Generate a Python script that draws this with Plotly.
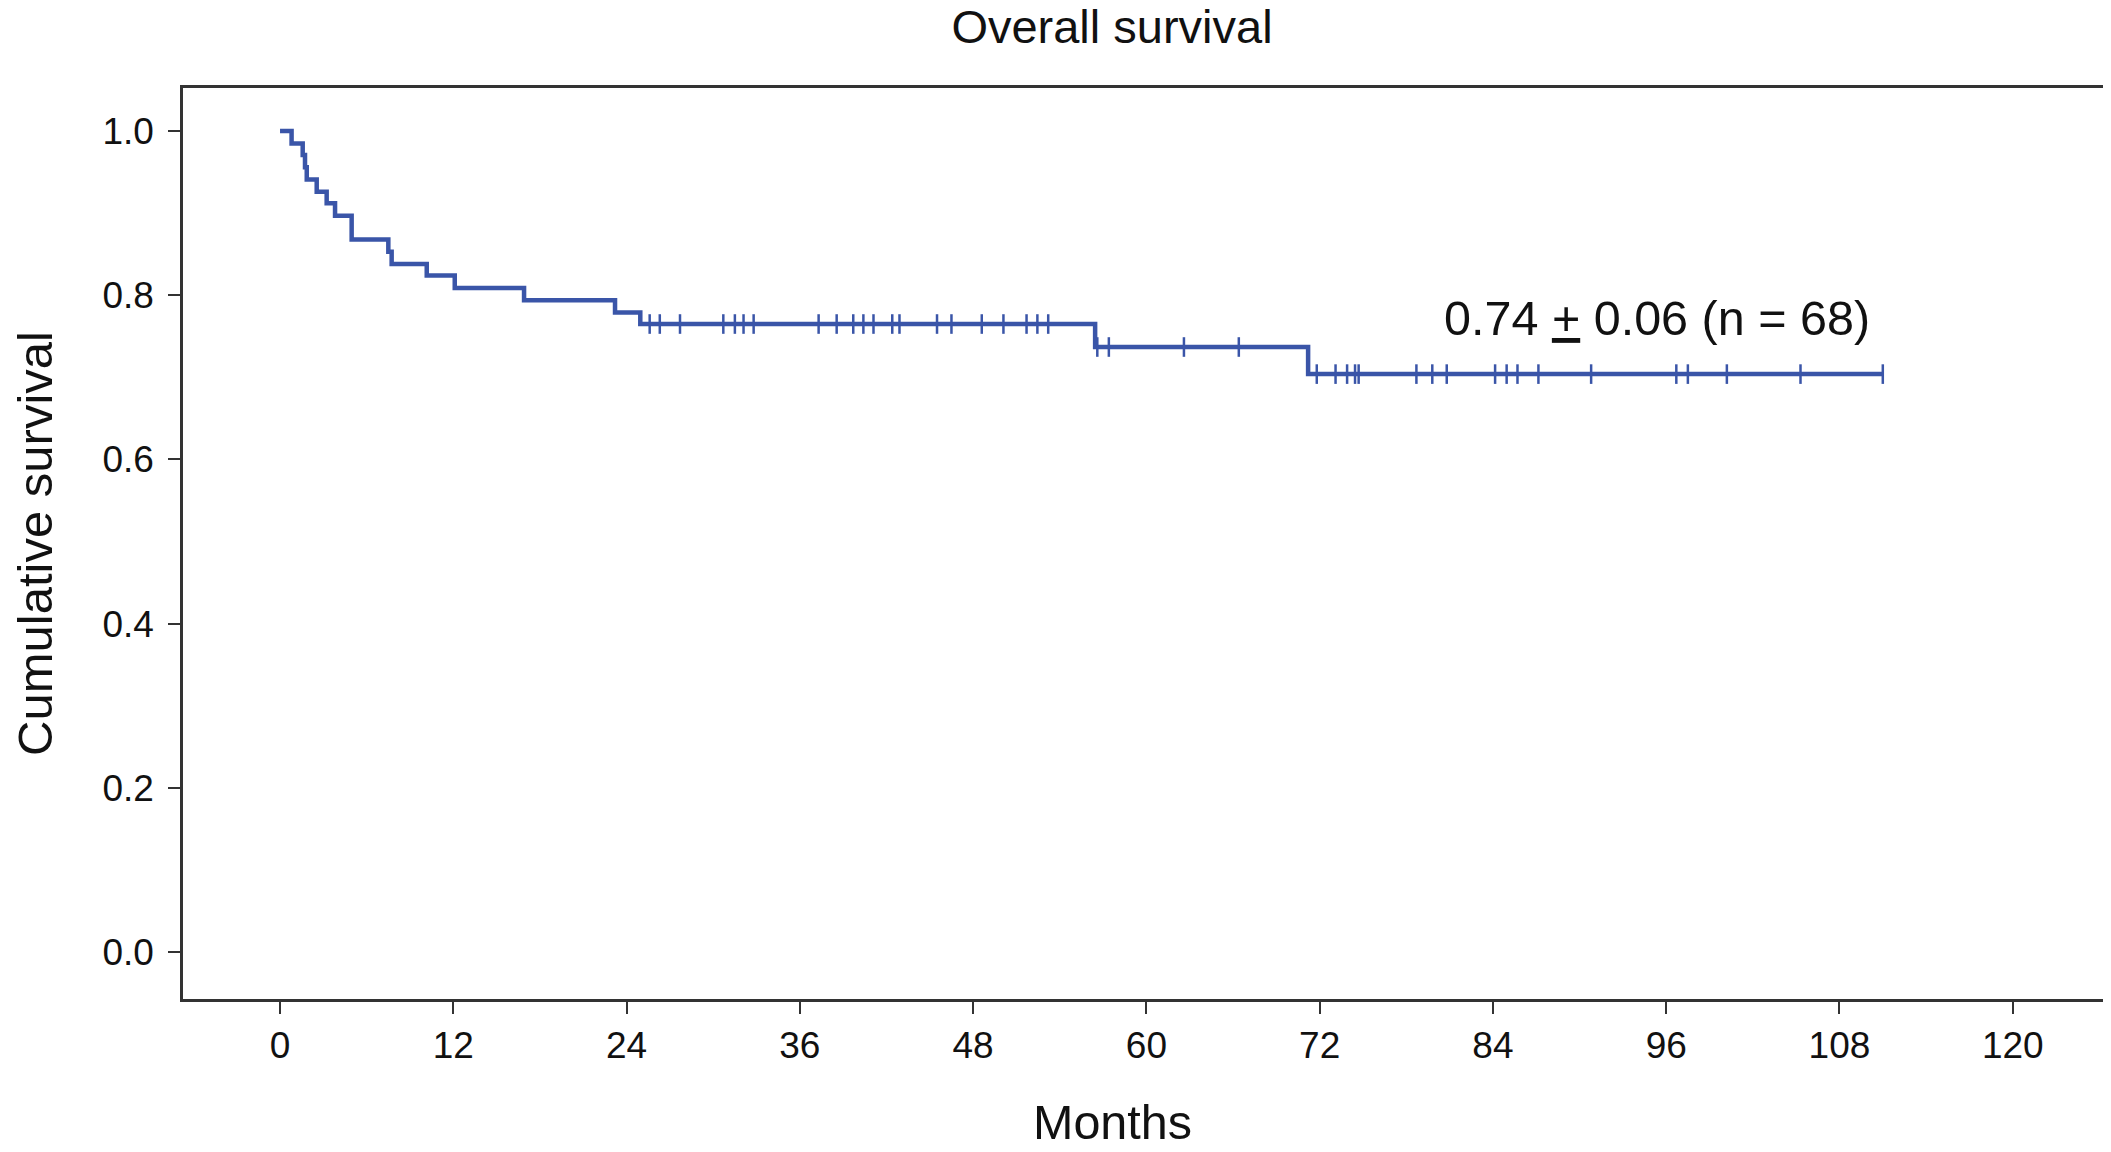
import plotly.graph_objects as go

# Kaplan-Meier step data (months, cumulative survival after event)
event_times = [0.8, 1.57, 1.73, 1.85, 2.54, 3.23, 3.81, 4.96, 7.5, 7.73, 10.16,
               12.1, 16.9, 23.2, 24.95, 56.45, 71.2]
survival = [0.985, 0.971, 0.956, 0.941, 0.926, 0.912, 0.897, 0.868, 0.853, 0.838,
            0.824, 0.809, 0.794, 0.779, 0.765, 0.737, 0.704]

# Censored observations (months)
censor_times = [25.6, 26.3, 27.7, 30.7, 31.5, 32.1, 32.8, 37.3, 38.55, 39.7, 40.4,
                41.1, 42.4, 42.9, 45.5, 46.5, 48.6, 50.1, 51.7, 52.45, 53.2, 56.6,
                57.4, 62.6, 66.4, 71.8, 73.1, 73.9, 74.45, 74.7, 78.7, 79.8, 80.8,
                84.15, 84.95, 85.7, 87.15, 90.8, 96.7, 97.5, 100.2, 105.3, 111.0]

x_ticks = [0, 12, 24, 36, 48, 60, 72, 84, 96, 108, 120]
y_ticks = [0.0, 0.2, 0.4, 0.6, 0.8, 1.0]

title_text = "Overall survival"
x_title = "Months"
y_title = "Cumulative survival"
note_text = "0.74 <u>+</u> 0.06 (n = 68)"

BLUE = "#3a55a8"
FONT = "Liberation Sans, Arial, sans-serif"

end_time = max(censor_times)
curve_x = [0.0] + event_times + [end_time]
curve_y = [1.0] + survival + [survival[-1]]

def surv_at(t):
    s = 1.0
    for et, sv in zip(event_times, survival):
        if et <= t:
            s = sv
    return s

censor_y = [surv_at(t) for t in censor_times]

W, H = 2103, 1144
ML, MR, MT, MB = 175, 8, 80, 153

fig = go.Figure()
fig.add_trace(go.Scatter(x=curve_x, y=curve_y, mode="lines",
                         line=dict(shape="hv", color=BLUE, width=4.5),
                         showlegend=False, hoverinfo="skip"))
fig.add_trace(go.Scatter(x=censor_times, y=censor_y, mode="markers",
                         marker=dict(symbol="line-ns-open", size=14, color=BLUE,
                                     line=dict(color=BLUE, width=2.5)),
                         showlegend=False))

fig.update_layout(
    width=W, height=H,
    margin=dict(l=ML, r=MR, t=MT, b=MB),
    paper_bgcolor="white", plot_bgcolor="white",
    font=dict(family=FONT, color="#111111"),
    title=dict(text=title_text, x=1104/W, xref="container", xanchor="center",
               y=1 - 19/H, yref="container", yanchor="middle", font=dict(size=47)),
    xaxis=dict(range=[-6.72, 126.25], tickvals=x_ticks, ticktext=[str(v) for v in x_ticks],
               showgrid=False, zeroline=False, showline=True, mirror=True, automargin=False,
               linecolor="#333333", linewidth=2.5, ticks="outside", ticklen=12, tickwidth=2,
               tickcolor="#333333", tickfont=dict(size=37)),
    yaxis=dict(range=[-0.0572, 1.0525], tickvals=y_ticks, tickformat=".1f",
               showgrid=False, zeroline=False, showline=True, mirror=True, automargin=False,
               linecolor="#333333", linewidth=2.5, ticks="outside", ticklen=12, tickwidth=2,
               tickcolor="#333333", tickfont=dict(size=37), ticklabelstandoff=7,
               title=dict(text=y_title, font=dict(size=49), standoff=58)),
    annotations=[
        dict(text=note_text, x=80.5, y=0.772, xref="x", yref="y",
             xanchor="left", yanchor="middle", showarrow=False,
             font=dict(size=48.5, family=FONT, color="#111111")),
        dict(text=x_title, x=(1104 - ML) / (W - ML - MR),
             y=(H - MB - 1113.5) / (H - MT - MB), xref="paper", yref="paper",
             xanchor="center", yanchor="middle", showarrow=False,
             font=dict(size=48.5, family=FONT, color="#111111")),
    ],
)

fig.write_html("out.html")
